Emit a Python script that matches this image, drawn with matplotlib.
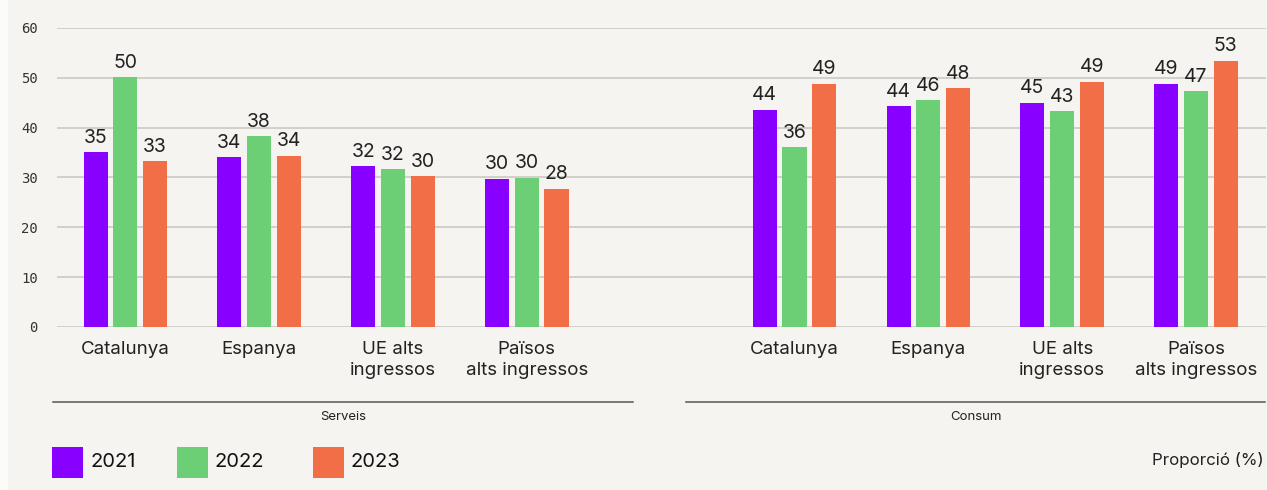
import matplotlib.pyplot as plt
import matplotlib.patches as mpatches
from matplotlib.lines import Line2D

plt.rcParams['font.family'] = ['Inter', 'DejaVu Sans']
NUMFONT = ['DejaVu Sans Mono', 'DejaVu Sans']

# data
categories = ['Catalunya', 'Espanya', 'UE alts\ningressos', 'Països\nalts ingressos']
groups = ['Serveis', 'Consum']
years = ['2021', '2022', '2023']
serveis_2021 = [35.1, 34.1, 32.3, 29.7]
serveis_2022 = [50.1, 38.3, 31.7, 29.9]
serveis_2023 = [33.3, 34.4, 30.3, 27.7]
consum_2021 = [43.6, 44.3, 45.0, 48.8]
consum_2022 = [36.1, 45.5, 43.3, 47.3]
consum_2023 = [48.8, 47.9, 49.2, 53.4]
yticks = [0, 10, 20, 30, 40, 50, 60]

colours = ['#8800ff', '#6dcf75', '#f26e47']
BG = '#f5f4f0'

fig = plt.figure(figsize=(12.67, 4.90), dpi=100, facecolor=BG)
ax = fig.add_axes([0.045, 0.3327, 0.9539, 0.6102])
ax.set_facecolor(BG)

# white strip on the far left like the reference
fig.patches.append(mpatches.Rectangle((0, 0), 8 / 1267, 1, transform=fig.transFigure,
                                      facecolor='#fbfbfa', edgecolor='none', zorder=0))

series = [
    (serveis_2021 + consum_2021),
    (serveis_2022 + consum_2022),
    (serveis_2023 + consum_2023),
]
xpos = [0, 1, 2, 3, 5, 6, 7, 8]
width = 0.18
step = 0.222

for i, vals in enumerate(series):
    xs = [x + (i - 1) * step for x in xpos]
    ax.bar(xs, vals, width=width, color=colours[i], zorder=3)
    for x, v in zip(xs, vals):
        ax.text(x, v + 1.1, f'{v:.0f}', ha='center', va='bottom',
                fontsize=14, color='#222222', zorder=4)

ax.set_ylim(0, 60)
ax.set_xlim(-0.51, 8.52)
ax.set_yticks(yticks)
ax.set_yticklabels([str(t) for t in yticks], fontsize=10, color='#333333', family=NUMFONT)
ax.tick_params(axis='y', length=0, pad=14)
ax.yaxis.grid(True, color='#cfcdc8', linewidth=1.3, zorder=0)
ax.set_axisbelow(True)
ax.set_xticks(xpos)
ax.set_xticklabels(categories * 2, fontsize=13.5, color='#222222', linespacing=1.3, va='top')
ax.tick_params(axis='x', length=0, pad=10)
for s in ax.spines.values():
    s.set_visible(False)

# group separator lines and group names
fig.add_artist(Line2D([53 / 1267, 633 / 1267], [1 - 402 / 490] * 2, color='#555555', linewidth=1.1))
fig.add_artist(Line2D([686 / 1267, 1265 / 1267], [1 - 402 / 490] * 2, color='#555555', linewidth=1.1))
fig.text(343 / 1267, 1 - 417 / 490, groups[0], ha='center', va='center', fontsize=9.5, color='#222222')
fig.text(976 / 1267, 1 - 417 / 490, groups[1], ha='center', va='center', fontsize=9.5, color='#222222')

# legend
sq_x = [52, 177, 313]
for i, yr in enumerate(years):
    fig.patches.append(mpatches.Rectangle((sq_x[i] / 1267, 1 - 478 / 490), 31 / 1267, 31 / 490,
                                          transform=fig.transFigure, facecolor=colours[i],
                                          edgecolor='none'))
    fig.text((sq_x[i] + 38) / 1267, 1 - 462 / 490, yr, ha='left', va='center',
             fontsize=14.5, color='#111111')

fig.text(1264 / 1267, 1 - 460 / 490, 'Proporció (%)', ha='right', va='center',
         fontsize=12.2, color='#222222')

plt.savefig('out.png', dpi=100, facecolor=BG)
